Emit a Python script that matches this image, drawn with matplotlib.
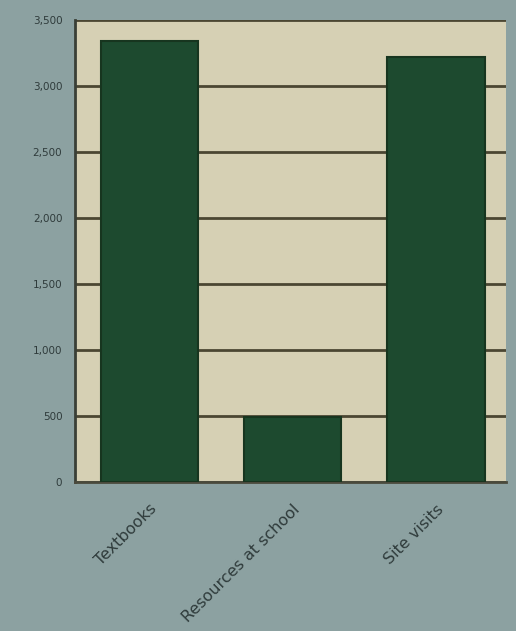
import matplotlib
matplotlib.use("Agg")
from matplotlib import pyplot as plt
from matplotlib.ticker import FuncFormatter, MultipleLocator

# values
categories = ["Textbooks", "Resources at school", "Site visits"]
counts = [3340, 490, 3220]

bg = "#8ca1a1"
panel = "#d6d0b4"
bar_color = "#1d4a2f"
grid_color = "#4b4632"
text_color = "#2f3b3b"

fig = plt.figure(figsize=(5.16, 6.31), dpi=100, facecolor=bg)
ax = fig.add_axes([0.145, 0.236, 0.836, 0.732], facecolor=panel)

ax.bar(range(len(categories)), counts, width=0.68, color=bar_color,
       edgecolor="#17351f", linewidth=1.5, zorder=3)

ax.set_ylim(0, 3500)
ax.set_xlim(-0.52, 2.49)
ax.yaxis.set_major_locator(MultipleLocator(500))
ax.yaxis.set_major_formatter(FuncFormatter(lambda v, p: f"{int(v):,}"))
ax.grid(axis="y", color=grid_color, linewidth=2, zorder=1)

ax.set_xticks(range(len(categories)))
ax.set_xticklabels(categories, rotation=45, ha="right", rotation_mode="anchor",
                   fontsize=11.5, color=text_color)
ax.tick_params(axis="x", length=0, pad=14)
ax.tick_params(axis="y", length=0, pad=9, labelsize=7.5, labelcolor=text_color)

for side in ["top", "right"]:
    ax.spines[side].set_visible(False)
ax.spines["left"].set_color("#3a3f36")
ax.spines["left"].set_linewidth(2)
ax.spines["bottom"].set_color("#4a4a3c")
ax.spines["bottom"].set_linewidth(2)

plt.savefig("out.png", facecolor=bg)
plt.close()
